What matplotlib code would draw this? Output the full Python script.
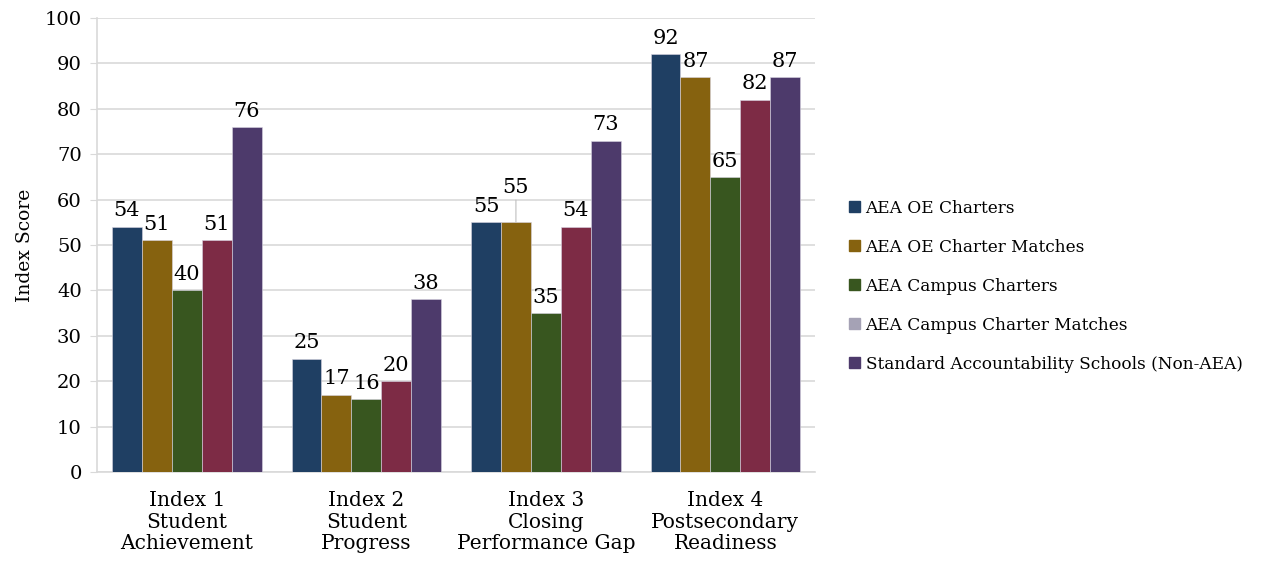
import numpy as np
import matplotlib.pyplot as plt
from matplotlib.patches import Patch

# index scores by group
categories = ["Index 1\nStudent\nAchievement", "Index 2\nStudent\nProgress",
              "Index 3\nClosing\nPerformance Gap", "Index 4\nPostsecondary\nReadiness"]
series = ["AEA OE Charters", "AEA OE Charter Matches", "AEA Campus Charters",
          "AEA Campus Charter Matches", "Standard Accountability Schools (Non-AEA)"]
oe_charters = [54, 25, 55, 92]
oe_matches = [51, 17, 55, 87]
campus_charters = [40, 16, 35, 65]
campus_matches = [51, 20, 54, 82]
standard = [76, 38, 73, 87]

values = [oe_charters, oe_matches, campus_charters, campus_matches, standard]
bar_colors = ["#1f3f63", "#86620f", "#38561f", "#7d2b45", "#4d3a6b"]
legend_colors = ["#1f3f63", "#86620f", "#38561f", "#a5a2b5", "#4d3a6b"]

plt.rcParams['font.family'] = ['DejaVu Serif']

fig = plt.figure(figsize=(12.62, 5.61), dpi=100)
ax = fig.add_axes([0.0769, 0.1586, 0.569, 0.8094])

x = np.arange(len(categories))
w = 1 / 6
for k in range(len(series)):
    pos = x + (k - 2) * w
    ax.bar(pos, values[k], width=w, color=bar_colors[k], edgecolor="#d8d4e2",
           linewidth=0.4, zorder=3)
    for i, v in enumerate(values[k]):
        if i == 2 and k == 1:
            # this label was pushed up, with a leader line
            ax.annotate(str(v), xy=(pos[i], v), xytext=(pos[i], v + 5.5),
                        ha="center", va="bottom", fontsize=15,
                        arrowprops=dict(arrowstyle="-", color="#bfbfbf", lw=0.8,
                                        shrinkA=0, shrinkB=0))
        else:
            ax.text(pos[i], v + 1.4, str(v), ha="center", va="bottom", fontsize=15)

ax.set_xlim(-0.5, 3.5)
ax.set_ylim(0, 100)
ax.set_yticks(range(0, 101, 10))
ax.set_xticks(x)
ax.set_xticklabels(categories, fontsize=14.5, linespacing=1.15)
ax.tick_params(axis="x", length=0, pad=14)
ax.tick_params(axis="y", length=5, color="#d9d9d9", labelsize=14, pad=6)
ax.grid(axis="y", color="#d9d9d9", lw=1.2, zorder=0)
for s in ["top", "right"]:
    ax.spines[s].set_visible(False)
ax.spines["left"].set_color("#d9d9d9")
ax.spines["bottom"].set_color("#d9d9d9")
ax.spines["left"].set_linewidth(1.2)
ax.spines["bottom"].set_linewidth(1.2)
ax.set_ylabel("Index Score", fontsize=13.5, labelpad=8)

handles = [Patch(color=c) for c in legend_colors]
fig.legend(handles, series, loc="center left", bbox_to_anchor=(0.661, 0.49),
           frameon=False, fontsize=12.2, handlelength=0.65, handleheight=0.65,
           handletextpad=0.3, labelspacing=1.3)

fig.savefig("out.png", dpi=100)
